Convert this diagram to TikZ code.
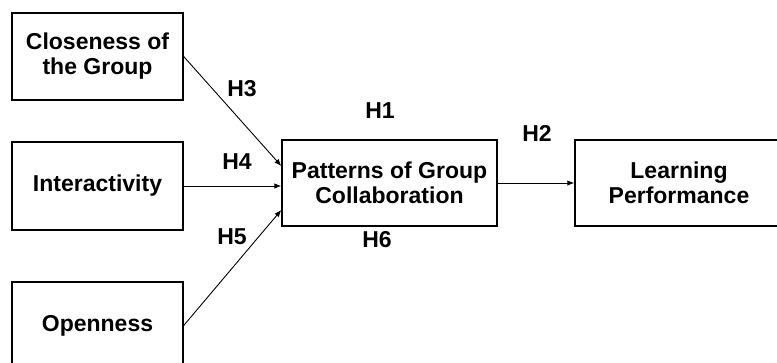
\documentclass[tikz,border=0pt]{standalone}
\usepackage{fontspec}
\setmainfont{Liberation Sans}
\usetikzlibrary{arrows.meta,calc}
\begin{document}
\begin{tikzpicture}[x=1pt,y=-1pt,
  box/.style={draw,line width=1.4pt,rectangle,inner sep=0pt,align=center,font=\bfseries\fontsize{23}{25}\selectfont},
  lbl/.style={font=\bfseries\fontsize{23}{25}\selectfont,inner sep=0pt},
  arr/.style={line width=0.9pt,-{Latex[length=7pt,width=5.5pt]}}]
\useasboundingbox (0,0) rectangle (777,362);
\node[box,minimum width=171pt,minimum height=87pt] (c1) at (97.5,56.5) {Closeness of\\the Group};
\node[box,minimum width=171pt,minimum height=88pt] (c2) at (97.5,186) {Interactivity};
\node[box,minimum width=171pt,minimum height=87pt] (c3) at (97.5,325.5) {Openness};
\node[box,minimum width=215pt,minimum height=86pt] (pc) at (389.5,183) {Patterns of Group\\Collaboration};
\node[box,minimum width=208pt,minimum height=86pt] (lp) at (679,183) {Learning\\Performance};
\draw[arr] (c1.east) -- ($(pc.west)+(0,-17)$);
\draw[arr] (c2.east) -- (c2.east -| pc.west);
\draw[arr] (c3.east) -- ($(pc.west)+(0,27)$);
\draw[arr] (pc.east) -- (lp.west);
\node[lbl] (h3) at (242,89) {H3};
\node[lbl] (h4) at (237,162) {H4};
\node[lbl] (h5) at (232,237) {H5};
\node[lbl] (h1) at (380,111) {H1};
\node[lbl] (h2) at (537,133) {H2};
\node[lbl] (h6) at (377,240) {H6};
\end{tikzpicture}
\end{document}
